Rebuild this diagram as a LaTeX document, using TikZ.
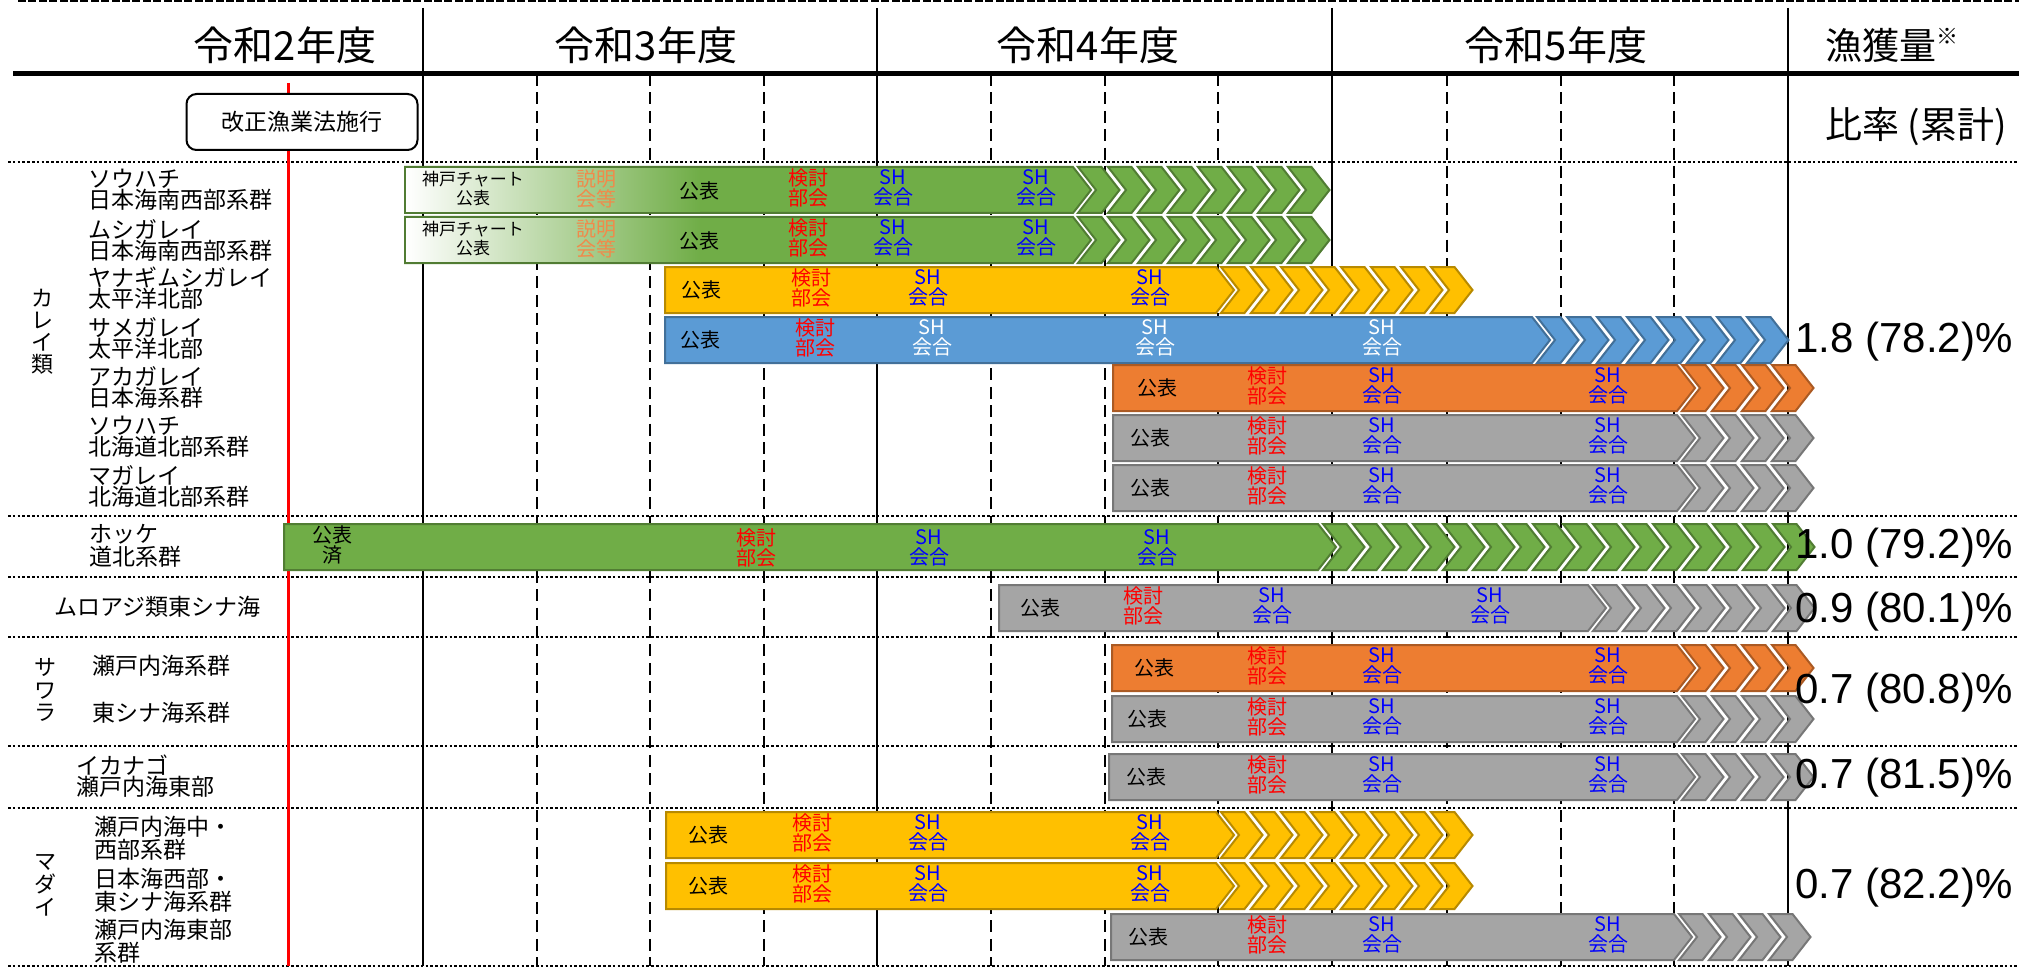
\documentclass[tikz,border=0pt]{standalone}
\usepackage{fontspec}
\setmainfont{Noto Sans CJK JP}
\newfontfamily\pctfont{Liberation Sans}
\usepackage{tikz}
\usetikzlibrary{calc}
\definecolor{grn}{HTML}{70AD47}
\definecolor{ylw}{HTML}{FFC000}
\definecolor{blu}{HTML}{5B9BD5}
\definecolor{org}{HTML}{ED7D31}
\definecolor{gry}{HTML}{A5A5A5}
\definecolor{setsu}{HTML}{F08A4B}
\tikzset{
    bartext/.style={inner sep=0pt, align=center, font=\fontsize{10}{10}\selectfont},
    kohyo/.style={bartext},
    kento/.style={bartext, text=red},
    shmeet/.style={bartext, text=blue},
    stock/.style={inner sep=0pt, anchor=west, align=left, font=\fontsize{11.5}{10.5}\selectfont},
    group/.style={inner sep=0pt, align=center, font=\fontsize{11}{11}\selectfont},
    ratio/.style={inner sep=0pt, anchor=west, font=\pctfont\fontsize{21}{21}\selectfont},
    year/.style={inner sep=0pt, font=\fontsize{20}{20}\selectfont},
    quarter/.style={dash pattern=on 6pt off 3.2pt, line width=1pt},
    rowsep/.style={dash pattern=on 1.3pt off 1.1pt, line width=1.4pt}
}
\newcommand{\schedbar}[5]{%
    \filldraw[fill=#1, draw=#1!72!black, line width=1pt] (#3,#2) -- (#4,#2) -- (#4+18,#2+23) -- (#4,#2+46) -- (#3,#2+46) -- cycle;
    \foreach \k in {1,...,#5}
        \filldraw[fill=#1, draw=#1!72!black, line width=1pt] (#4+30*\k-25,#2) -- ++(23.5,0) -- ++(18,23) -- ++(-18,23) -- ++(-23.5,0) -- ++(18,-23) -- cycle;
}

\begin{document}
\begin{tikzpicture}[x=0.5pt, y=-0.5pt]
\useasboundingbox (0,0) rectangle (2037,968);
\draw[dash pattern=on 4pt off 1.2pt, line width=1.5pt] (18,1) -- (2019,1);
\draw[line width=2.5pt] (13,74) -- (2019,74);
\foreach \x in {537,650,764,991,1105,1218,1447,1561,1674}
    \draw[quarter] (\x,74) -- (\x,966);
\foreach \x in {423,877,1332,1788}
    \draw[line width=1.1pt] (\x,8) -- (\x,966);
\foreach \y in {162,516,577,637,746,808,966}
    \draw[rowsep] (8,\y) -- (2017,\y);
\draw[red, line width=1.5pt] (288,83) -- (288,966);
\node[draw, rounded corners=5pt, line width=1pt, fill=white, minimum width=115.5pt, minimum height=28pt, font=\fontsize{11.5}{11.5}\selectfont] (kaisei) at (302,122) {改正漁業法施行};

\foreach \x/\yr in {285/2, 646/3, 1088/4, 1556/5}
    \node[year] (yr\yr) at (\x,45) {令和\yr 年度};
\node[year, font=\fontsize{18.5}{18.5}\selectfont] (catch) at (1892,45) {漁獲量\raisebox{0.4em}{\fontsize{11}{11}\selectfont ※}};
\node[year, font=\fontsize{18.5}{18.5}\selectfont] (share) at (1916,127) {比率 (累計)};

\foreach \col/\yt/\xs/\xe/\nc in {grn/167/405/1073/8, grn/217/405/1073/8, ylw/267/665/1216/8, blu/317/665/1532/8, org/365/1113/1677/4, gry/415/1113/1677/4, gry/465/1113/1677/4, grn/524/284/1318/16, gry/585/999/1588/7, org/645/1112/1677/4, gry/696/1112/1677/4, gry/754/1109/1677/4, ylw/812/666/1216/8, ylw/863/666/1216/8, gry/914/1111/1674/4}
    \schedbar{\col}{\yt}{\xs}{\xe}{\nc};
\foreach \yt in {167,217}{
    \shade[left color=white, right color=grn] (406,\yt+1) rectangle (700,\yt+45);
    \draw[grn!72!black, line width=1pt] (700,\yt) -| (405,\yt+46) -- (700,\yt+46);
}

\foreach \yt [count=\i] in {167,217}{
    \node[bartext, font=\fontsize{8.5}{9.5}\selectfont] (kobe\i) at (473,\yt+22) {神戸チャート\\公表};
    \node[bartext, text=setsu] (setsu\i) at (596,\yt+22) {説明\\会等};
    \node[kohyo] (kg\i) at (699,\yt+24) {公表};
    \node[kento] (ktg\i) at (808,\yt+21) {検討\\部会};
    \node[shmeet] (sga\i) at (893,\yt+21) {SH\\会合};
    \node[shmeet] (sgb\i) at (1036,\yt+21) {SH\\会合};
}
\node[kohyo] (ksm) at (700,340) {公表};
\node[kento] (ktsm) at (815,338) {検討\\部会};
\foreach \x [count=\j] in {932,1155,1382}
    \node[shmeet, text=white] (ssm\j) at (\x,338) {SH\\会合};
\node[kohyo] (khk) at (332,545) {公表\\済};
\node[kento] (kthk) at (756,548) {検討\\部会};
\node[shmeet] (shka) at (929,548) {SH\\会合};
\node[shmeet] (shkb) at (1157,548) {SH\\会合};
\foreach \yt/\xa/\xb/\xc/\xd [count=\i] in {267/701/811/928/1150, 365/1157/1267/1382/1608, 415/1150/1267/1382/1608, 465/1150/1267/1382/1608, 585/1040/1143/1272/1490, 645/1154/1267/1382/1608, 696/1147/1267/1382/1608, 754/1146/1267/1382/1608, 812/708/812/928/1150, 863/708/812/928/1150, 914/1148/1267/1382/1608}{
    \node[kohyo] (kh\i) at (\xa,\yt+23) {公表};
    \node[kento] (kt\i) at (\xb,\yt+21) {検討\\部会};
    \node[shmeet] (sa\i) at (\xc,\yt+21) {SH\\会合};
    \node[shmeet] (sb\i) at (\xd,\yt+21) {SH\\会合};
}

\foreach \x/\y/\txt [count=\i] in {88/190/{ソウハチ\\日本海南西部系群}, 88/240/{ムシガレイ\\日本海南西部系群}, 88/288/{ヤナギムシガレイ\\太平洋北部}, 88/338/{サメガレイ\\太平洋北部}, 88/387/{アカガレイ\\日本海系群}, 88/437/{ソウハチ\\北海道北部系群}, 88/486/{マガレイ\\北海道北部系群}, 89/546/{ホッケ\\道北系群}, 54/607/{ムロアジ類東シナ海}, 92/666/{瀬戸内海系群}, 92/713/{東シナ海系群}, 76/776/{イカナゴ\\瀬戸内海東部}, 94/838/{瀬戸内海中・\\西部系群}, 94/890/{日本海西部・\\東シナ海系群}, 94/941/{瀬戸内海東部\\系群}}
    \node[stock] (st\i) at (\x,\y) {\txt};
\node[group] (karei) at (43,332) {カ\\レ\\イ\\類};
\node[group, font=\fontsize{11}{11.3}\selectfont] (sawara) at (45,690) {サ\\ワ\\ラ};
\node[group, font=\fontsize{11}{11.5}\selectfont] (madai) at (45,885) {マ\\ダ\\イ};

\foreach \y/\v [count=\i] in {342/{1.8 (78.2)\%}, 548/{1.0 (79.2)\%}, 612/{0.9 (80.1)\%}, 693/{0.7 (80.8)\%}, 778/{0.7 (81.5)\%}, 888/{0.7 (82.2)\%}}
    \node[ratio] (pct\i) at (1795,\y) {\v};
\end{tikzpicture}
\end{document}
